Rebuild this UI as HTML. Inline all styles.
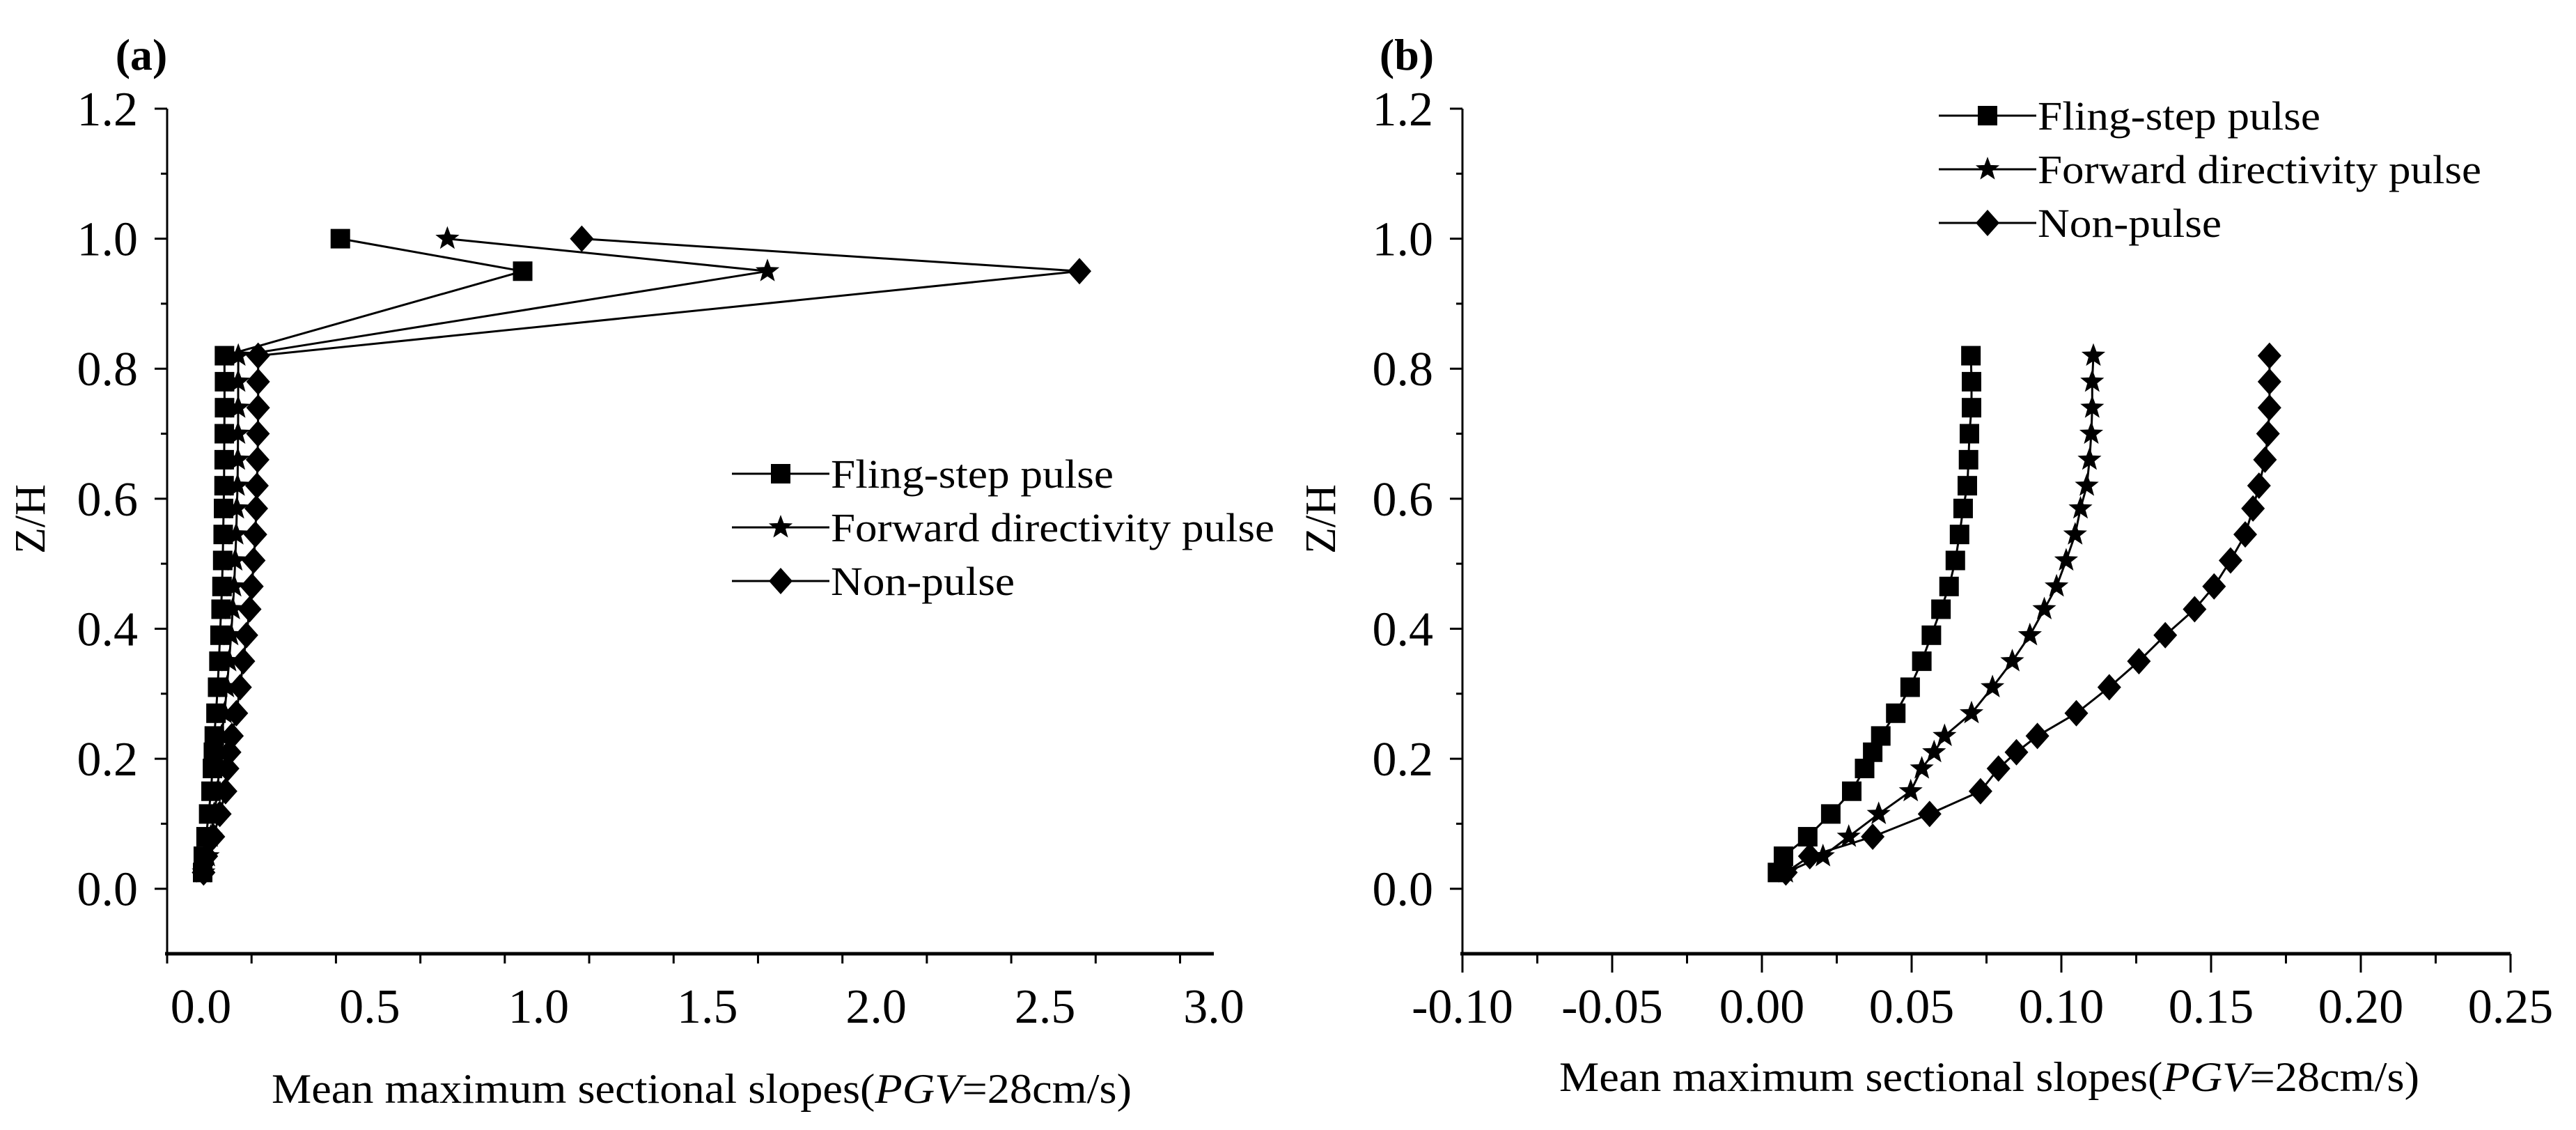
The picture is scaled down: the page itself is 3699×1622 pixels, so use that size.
<!DOCTYPE html>
<html>
<head>
<meta charset="utf-8">
<style>
html,body{margin:0;padding:0;background:#fff;}
svg{display:block;}
text{font-family:"Liberation Serif","Times New Roman",serif;fill:#000;}
</style>
</head>
<body>
<svg id="chart" width="3699" height="1622" viewBox="0 0 3699 1622" xmlns="http://www.w3.org/2000/svg">
<rect x="0" y="0" width="3699" height="1622" fill="#fff"/>
</svg>
<script>
// ---- shared data ----
const heights = [0.82,0.78,0.74,0.70,0.66,0.62,0.585,0.545,0.505,0.465,0.43,0.39,0.35,0.31,0.27,0.235,0.21,0.185,0.15,0.115,0.08,0.05,0.025];
const flingValues = [0.0698,0.070,0.070,0.0693,0.069,0.0686,0.0672,0.066,0.0646,0.0625,0.0598,0.0566,0.0534,0.0495,0.0447,0.0397,0.037,0.0343,0.030,0.023,0.0153,0.0072,0.0052];
const forwardValues = [0.1107,0.1103,0.1103,0.110,0.1094,0.1085,0.1064,0.1046,0.1016,0.0984,0.0943,0.0895,0.0836,0.077,0.070,0.061,0.0575,0.0534,0.0497,0.039,0.029,0.0204,0.008];
const nonPulseValues = [0.1695,0.1695,0.1695,0.169,0.168,0.166,0.164,0.1614,0.1565,0.151,0.1445,0.1347,0.1259,0.116,0.105,0.092,0.085,0.079,0.073,0.056,0.037,0.016,0.008];
// panel (a) extra top points
const topHeights = [1.0,0.95];
const flingTop = [0.413,0.953];
const forwardTop = [0.73,1.678];
const nonPulseTop = [1.128,2.602];
// ticks
const yTicks = [0.0,0.2,0.4,0.6,0.8,1.0,1.2];
const yTickLabels = ["0.0","0.2","0.4","0.6","0.8","1.0","1.2"];
const xTicksA = [0.0,0.5,1.0,1.5,2.0,2.5,3.0];
const xTickLabelsA = ["0.0","0.5","1.0","1.5","2.0","2.5","3.0"];
const xTicksB = [-0.10,-0.05,0.00,0.05,0.10,0.15,0.20,0.25];
const xTickLabelsB = ["-0.10","-0.05","0.00","0.05","0.10","0.15","0.20","0.25"];
const seriesNames = ["Fling-step pulse","Forward directivity pulse","Non-pulse"];

const NS="http://www.w3.org/2000/svg";
const svg=document.getElementById('chart');
function mk(tag,attrs,parent){const e=document.createElementNS(NS,tag);for(const k in attrs)e.setAttribute(k,attrs[k]);(parent||svg).appendChild(e);return e;}

function marker(g,type,cx,cy){
  let m;
  if(type==='square'){m=mk('rect',{x:cx-14,y:cy-14,width:28,height:28,fill:'#000'},g);}
  else if(type==='diamond'){m=mk('polygon',{points:`${cx},${cy-19} ${cx+17},${cy} ${cx},${cy+19} ${cx-17},${cy}`,fill:'#000'},g);}
  else {let p=[];for(let i=0;i<10;i++){const r=i%2?7.5:18;const a=-Math.PI/2+i*Math.PI/5;p.push((cx+r*Math.cos(a)).toFixed(1)+','+(cy+r*Math.sin(a)).toFixed(1));}
    m=mk('polygon',{points:p.join(' '),fill:'#000'},g);}
  return m;
}

function panel(opt){
  const {x0,x1,xmin,xmax,ticks,labels,minorStep,name,title,titleY,tag,tagX,zhX,legX,legY,series} = opt;
  const yTop=156, yBot=1369, ymin=-0.1, ymax=1.2;
  const sx=v=>x0+(v-xmin)/(xmax-xmin)*(x1-x0);
  const sy=v=>yBot-(v-ymin)/(ymax-ymin)*(yBot-yTop);
  const g=mk('g',{});
  
  
  const ya=mk('line',{x1:x0,y1:yTop,x2:x0,y2:yBot,stroke:'#000','stroke-width':3},g);
  
  const xa=mk('line',{x1:x0-3,y1:yBot,x2:x1,y2:yBot,stroke:'#000','stroke-width':5},g);
  
  for(let v=0;v<=12;v++){const val=v/10;const y=sy(val);const major=v%2===0;
    mk('line',{x1:x0-(major?18:9),y1:y,x2:x0,y2:y,stroke:'#000','stroke-width':3},g);}
  yTicks.forEach((v,i)=>{const t=mk('text',{x:x0-42,y:sy(v)+24,'font-size':70,'text-anchor':'end'},g);t.textContent=yTickLabels[i];
    });
  const n=Math.round((xmax-xmin)/minorStep);
  for(let i=0;i<=n;i++){const v=xmin+i*minorStep;const x=sx(v);
    const major=ticks.some(t=>Math.abs(t-v)<1e-9);
    mk('line',{x1:x,y1:yBot,x2:x,y2:yBot+(major?27:14),stroke:'#000','stroke-width':3},g);}
  ticks.forEach((v,i)=>{const t=mk('text',{x:sx(v),y:1468,'font-size':70,'text-anchor':'middle'},g);t.textContent=labels[i];
    });
  const xt=mk('text',{x:title.x,y:titleY,'font-size':60,textLength:1235,lengthAdjust:'spacingAndGlyphs'},g);
  xt.innerHTML='Mean maximum sectional slopes(<tspan font-style="italic">PGV</tspan>=28cm/s)';
  
  const yt=mk('text',{x:0,y:0,'font-size':62,'text-anchor':'middle',transform:`translate(${zhX+20},745) rotate(-90)`},g);
  yt.textContent='Z/H';
  
  const pt=mk('text',{x:tagX,y:100,'font-size':64,'font-weight':'bold','text-anchor':'middle'},g);
  pt.textContent=tag;
  
  const types=['square','star','diamond'];
  series.forEach((s,si)=>{
    const sg=mk('g',{},g);
    
    
    const pts=s.h.map((h,i)=>sx(s.v[i]).toFixed(1)+','+sy(h).toFixed(1));
    mk('polyline',{points:pts.join(' '),fill:'none',stroke:'#000','stroke-width':3},sg);
    s.h.forEach((h,i)=>{const m=marker(sg,types[si],sx(s.v[i]),sy(h));
      
      });
  });
  const lg=mk('g',{},g);
  
  
  const widths=[406,637,264];
  seriesNames.forEach((nm,i)=>{const y=legY+i*77;
    const e=mk('g',{},lg);
    
    
    mk('line',{x1:legX,y1:y,x2:legX+140,y2:y,stroke:'#000','stroke-width':3},e);
    marker(e,types[i],legX+70,y);
    const t=mk('text',{x:legX+142,y:y+20,'font-size':58,textLength:widths[i],lengthAdjust:'spacingAndGlyphs'},e);
    t.textContent=nm;});
}

panel({x0:240,x1:1743,xmin:-0.1,xmax:3.0,ticks:xTicksA,labels:xTickLabelsA,minorStep:0.25,name:'panel-a',
  title:{x:390},titleY:1583,tag:'(a)',tagX:203,zhX:44,legX:1051,legY:680,
  series:[{h:topHeights.concat(heights),v:flingTop.concat(flingValues)},
          {h:topHeights.concat(heights),v:forwardTop.concat(forwardValues)},
          {h:topHeights.concat(heights),v:nonPulseTop.concat(nonPulseValues)}]});
panel({x0:2100,x1:3605,xmin:-0.10,xmax:0.25,ticks:xTicksB,labels:xTickLabelsB,minorStep:0.025,name:'panel-b',
  title:{x:2239},titleY:1566,tag:'(b)',tagX:2020,zhX:1897,legX:2784,legY:166,
  series:[{h:heights,v:flingValues},{h:heights,v:forwardValues},{h:heights,v:nonPulseValues}]});
</script>
</body>
</html>
